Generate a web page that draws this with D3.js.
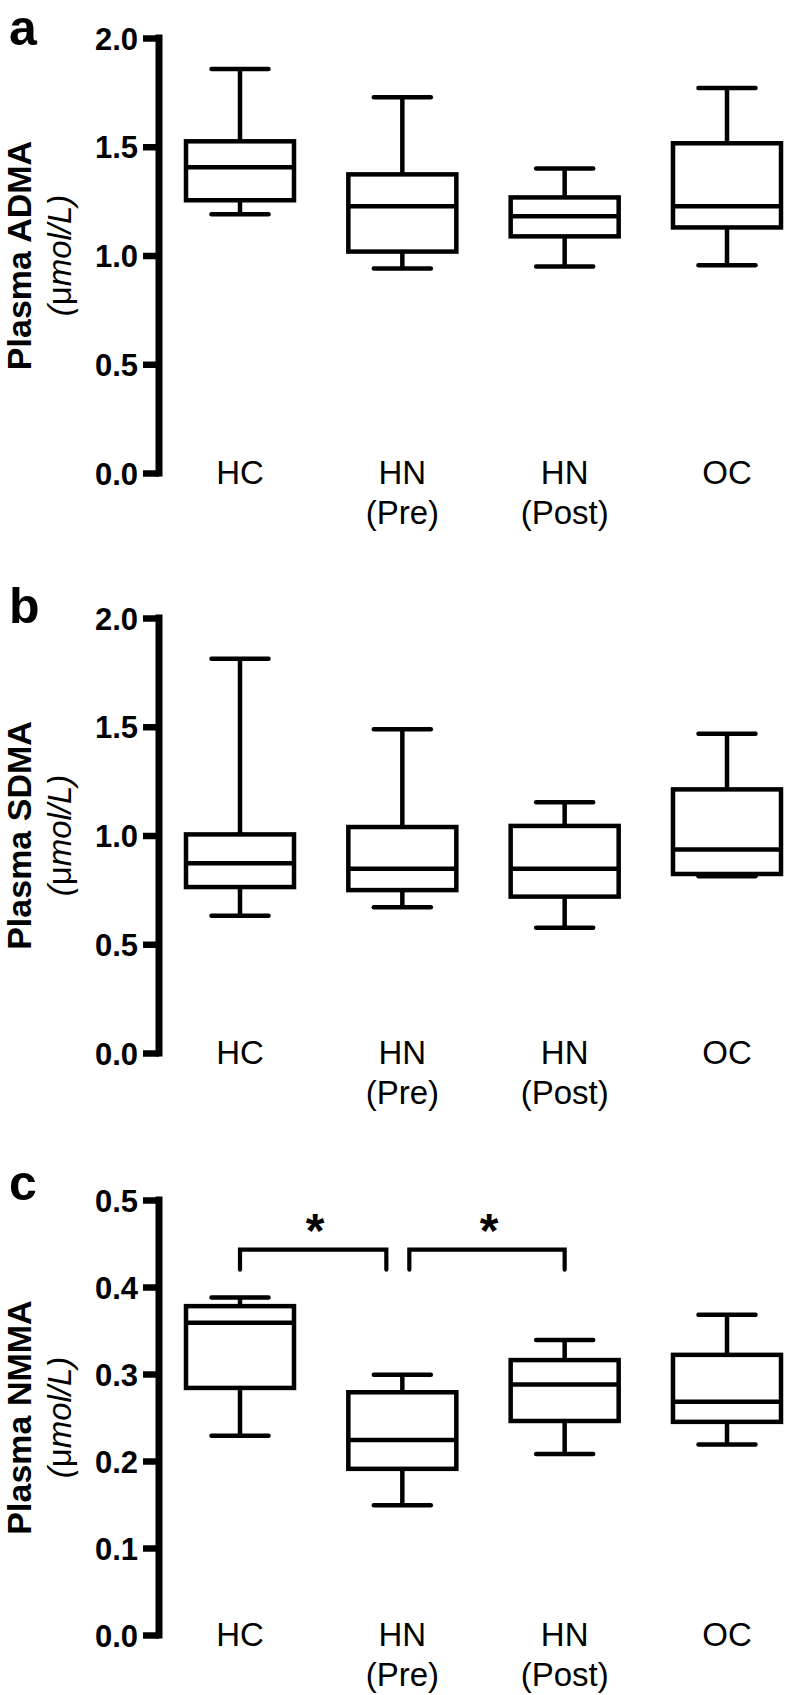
<!DOCTYPE html>
<html>
<head>
<meta charset="utf-8">
<script src="https://cdn.jsdelivr.net/npm/d3@7"></script>
<style>
  html, body { margin: 0; padding: 0; background: #fff; }
  svg { display: block; }
  text { font-family: "Liberation Sans", Arial, Helvetica, sans-serif; fill: #000; }
</style>
</head>
<body>
<svg id="chart" width="786" height="1695"></svg>
<script>
// ---------- data ----------
const categories = ["HC", "HN (Pre)", "HN (Post)", "OC"];
const categoryLabelLines = [["HC"], ["HN", "(Pre)"], ["HN", "(Post)"], ["OC"]];

// Panel a: Plasma ADMA (µmol/L)
const admaMin = [1.19, 0.94, 0.95, 0.955];
const admaQ1  = [1.254, 1.018, 1.088, 1.129];
const admaMed = [1.406, 1.226, 1.18, 1.226];
const admaQ3  = [1.525, 1.373, 1.267, 1.516];
const admaMax = [1.857, 1.728, 1.40, 1.77];
const admaTicks = [0.0, 0.5, 1.0, 1.5, 2.0];

// Panel b: Plasma SDMA (µmol/L)
const sdmaMin = [0.631, 0.67, 0.576, 0.813];
const sdmaQ1  = [0.763, 0.749, 0.719, 0.823];
const sdmaMed = [0.872, 0.847, 0.847, 0.936];
const sdmaQ3  = [1.005, 1.039, 1.044, 1.212];
const sdmaMax = [1.813, 1.488, 1.153, 1.468];
const sdmaTicks = [0.0, 0.5, 1.0, 1.5, 2.0];

// Panel c: Plasma NMMA (µmol/L)
const nmmaMin = [0.229, 0.149, 0.208, 0.219];
const nmmaQ1  = [0.284, 0.191, 0.246, 0.245];
const nmmaMed = [0.359, 0.224, 0.288, 0.268];
const nmmaQ3  = [0.378, 0.279, 0.316, 0.322];
const nmmaMax = [0.388, 0.299, 0.339, 0.368];
const nmmaTicks = [0.0, 0.1, 0.2, 0.3, 0.4, 0.5];

// significance brackets for panel c (category index pairs)
const nmmaCompFrom = [0, 1];
const nmmaCompTo   = [1, 2];
const nmmaCompLabel = ["*", "*"];
const nmmaBracketTop = 0.443;
const nmmaBracketLegEnd = 0.42;

// ---------- layout ----------
const svg = d3.select("#chart");
const axisX = 159;
const plotH = 435;
const x = d3.scalePoint().domain(categories).range([240, 727]);
const boxW = 108, capW = 57;
const boxStroke = 4.5;

function buildStats(mins, q1s, meds, q3s, maxs) {
  return categories.map((c, i) => ({cat: c, min: mins[i], q1: q1s[i], med: meds[i], q3: q3s[i], max: maxs[i]}));
}

const panels = [
  {letter: "a", title: "Plasma ADMA", top: 38, domain: [0, 2], ticks: admaTicks,
   stats: buildStats(admaMin, admaQ1, admaMed, admaQ3, admaMax), letterDy: 7},
  {letter: "b", title: "Plasma SDMA", top: 618, domain: [0, 2], ticks: sdmaTicks,
   stats: buildStats(sdmaMin, sdmaQ1, sdmaMed, sdmaQ3, sdmaMax), letterDy: 5},
  {letter: "c", title: "Plasma NMMA", top: 1200, domain: [0, 0.5], ticks: nmmaTicks,
   stats: buildStats(nmmaMin, nmmaQ1, nmmaMed, nmmaQ3, nmmaMax), letterDy: 0,
   brackets: nmmaCompFrom.map((f, i) => ({from: f, to: nmmaCompTo[i], label: nmmaCompLabel[i]}))}
];

panels.forEach(p => {
  const y = d3.scaleLinear().domain(p.domain).range([p.top + plotH, p.top]);
  const g = svg.append("g");

  // panel letter
  g.append("text").attr("x", 9).attr("y", p.top + p.letterDy)
    .attr("font-size", 50).attr("font-weight", "bold").text(p.letter);

  // y axis
  const axis = d3.axisLeft(y).tickValues(p.ticks).tickFormat(d3.format(".1f"))
    .tickSize(16).tickSizeOuter(0).tickPadding(5);
  const ag = g.append("g").attr("transform", `translate(${axisX},0)`).call(axis);
  ag.select(".domain").attr("stroke", "#000").attr("stroke-width", 7).attr("stroke-linecap", "square")
    .attr("d", `M0,${y.range()[0]}V${y.range()[1]}`);
  ag.selectAll(".tick line").attr("stroke", "#000").attr("stroke-width", 6.5);
  ag.selectAll(".tick text").attr("font-size", 31).attr("font-weight", "bold")
    .attr("font-family", "'Liberation Sans', Arial, Helvetica, sans-serif").attr("fill", "#000")
    .attr("dy", "0.36em");

  // y title
  const midY = p.top + plotH / 2;
  g.append("text").attr("transform", `translate(31,${midY}) rotate(-90)`)
    .attr("text-anchor", "middle").attr("font-size", 34).attr("font-weight", "bold").text(p.title);
  const unit = g.append("text").attr("transform", `translate(71,${midY}) rotate(-90)`)
    .attr("text-anchor", "middle").attr("font-size", 33);
  unit.append("tspan").attr("font-style", "italic").text("(");
  unit.append("tspan").text("\u03BC");
  unit.append("tspan").attr("font-style", "italic").text("mol/L)");

  // boxes
  const bx = g.selectAll("g.box").data(p.stats).enter().append("g").attr("class", "box")
    .attr("transform", d => `translate(${x(d.cat)},0)`);
  bx.append("line").attr("x1", 0).attr("x2", 0).attr("y1", d => y(d.max)).attr("y2", d => y(d.q3))
    .attr("stroke", "#000").attr("stroke-width", boxStroke);
  bx.append("line").attr("x1", 0).attr("x2", 0).attr("y1", d => y(d.q1)).attr("y2", d => y(d.min))
    .attr("stroke", "#000").attr("stroke-width", boxStroke);
  bx.append("line").attr("x1", -capW / 2).attr("x2", capW / 2).attr("y1", d => y(d.max)).attr("y2", d => y(d.max))
    .attr("stroke", "#000").attr("stroke-width", boxStroke).attr("stroke-linecap", "round");
  bx.append("line").attr("x1", -capW / 2).attr("x2", capW / 2).attr("y1", d => y(d.min)).attr("y2", d => y(d.min))
    .attr("stroke", "#000").attr("stroke-width", boxStroke).attr("stroke-linecap", "round");
  bx.append("rect").attr("x", -boxW / 2).attr("width", boxW)
    .attr("y", d => y(d.q3)).attr("height", d => y(d.q1) - y(d.q3))
    .attr("fill", "#fff").attr("stroke", "#000").attr("stroke-width", boxStroke);
  bx.append("line").attr("x1", -boxW / 2).attr("x2", boxW / 2).attr("y1", d => y(d.med)).attr("y2", d => y(d.med))
    .attr("stroke", "#000").attr("stroke-width", boxStroke);

  // x labels
  const base = p.top + plotH + 11;
  const xl = g.selectAll("text.xl").data(categories).enter().append("text").attr("class", "xl")
    .attr("text-anchor", "middle").attr("font-size", 33);
  xl.each(function(c, i) {
    const t = d3.select(this);
    categoryLabelLines[i].forEach((ln, j) => {
      t.append("tspan").attr("x", x(c)).attr("y", base + j * 40).text(ln);
    });
  });

  // brackets
  if (p.brackets) {
    const yTop = y(nmmaBracketTop), yLeg = y(nmmaBracketLegEnd);
    p.brackets.forEach((b, i) => {
      const x1 = x(categories[b.from]) + (i === 0 ? 0 : 7);
      const x2 = x(categories[b.to]) - (i === 0 ? 16 : 0);
      g.append("path").attr("d", `M${x1},${yLeg}V${yTop}H${x2}V${yLeg}`)
        .attr("fill", "none").attr("stroke", "#000").attr("stroke-width", 4.2)
        .attr("stroke-linejoin", "miter").attr("stroke-linecap", "round");
      g.append("text").attr("x", (x1 + x2) / 2 + 2).attr("y", yTop - 3)
        .attr("text-anchor", "middle").attr("font-size", 48).attr("font-weight", "bold").text(b.label);
    });
  }
});
</script>
</body>
</html>
